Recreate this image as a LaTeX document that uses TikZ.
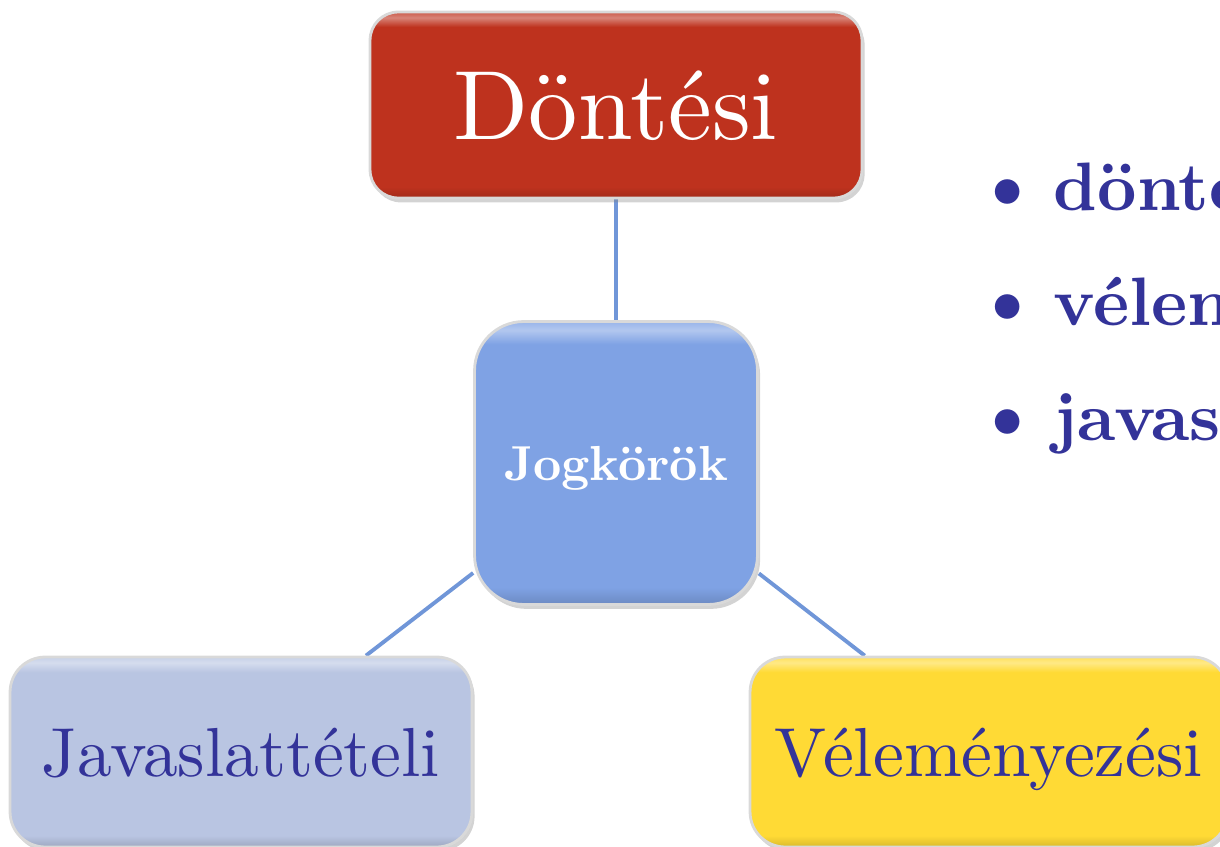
\documentclass[tikz,border=0pt]{standalone}
\usepackage{xcolor}
\definecolor{dont_red}{HTML}{BE321E}
\definecolor{jog_blue}{HTML}{7FA2E4}
\definecolor{jav_lilac}{HTML}{B9C5E2}
\definecolor{vel_yellow}{HTML}{FFDA35}
\definecolor{text_blue}{HTML}{333399}
\definecolor{link_blue}{HTML}{7096D8}
\colorlet{boxc}{white}
\usetikzlibrary{backgrounds,shadows}
\pgfdeclareverticalshading[boxc]{bevel}{100bp}{color(0bp)=(boxc!85!black); color(25bp)=(boxc!85!black); color(28bp)=(boxc); color(71bp)=(boxc); color(73.5bp)=(boxc!60!white); color(75bp)=(boxc!80!white); color(100bp)=(boxc!80!white)}
% 10pt design of Latin Modern, scaled up
\font\bigrm="[lmroman10-regular]" at 56pt
\font\midrm="[lmroman10-regular]" at 39.5pt
\font\midbf="[lmroman10-bold]" at 39pt
\font\dotbf="[lmroman10-bold]" at 46pt
\font\jogbf="[lmroman10-bold]" at 28pt

\begin{document}
\begin{tikzpicture}[x=0.02cm, y=-0.02cm]
\tikzset{
    box/.style={rounded corners=#1, draw=gray!30, line width=1.6pt, shade, text depth=0pt, inner sep=0pt,
        drop shadow={shadow xshift=1.5pt, shadow yshift=-2.5pt, opacity=0.35}},
    bevel/.style={/utils/exec={\colorlet{boxc}{#1}}, shading=bevel},
    link/.style={draw=link_blue, line width=2.2pt},
    bullet/.style={anchor=base west, inner sep=0pt, text=text_blue, font=\midbf}
}
\useasboundingbox (0,0) rectangle (1220,846);
\clip (0,0) rectangle (1220,846);
  % boxes
\node[box=16pt, bevel=dont_red, minimum width=9.84cm, minimum height=3.72cm, text=white,
    font=\bigrm] (1) at (616,105) {Döntési};
\node[box=28pt, bevel=jog_blue, minimum width=5.66cm, minimum height=5.66cm, text=white,
    font=\jogbf] (2) at (616,463) {Jogkörök};
\node[box=20pt, bevel=jav_lilac, minimum width=9.24cm, minimum height=3.8cm, text=text_blue,
    font=\midrm] (3) at (241,752) {Javaslattételi};
\node[box=20pt, bevel=vel_yellow, minimum width=9.56cm, minimum height=3.8cm, text=text_blue,
    font=\midrm] (4) at (989,752) {Véleményezési};
% bullets
\node[bullet] (b1) at (971,210) {{\dotbf\textbullet}\hspace{0.15em}döntési};
\node[bullet] (b2) at (971,325) {{\dotbf\textbullet}\hspace{0.15em}véleményezési};
\node[bullet] (b3) at (971,440) {{\dotbf\textbullet}\hspace{0.15em}javaslattételi};
% links
\begin{scope}[on background layer]
\draw[link] (1) -- (2);
\draw[link] (2) -- (3);
\draw[link] (2) -- (4);
\end{scope}
\end{tikzpicture}
\end{document}
